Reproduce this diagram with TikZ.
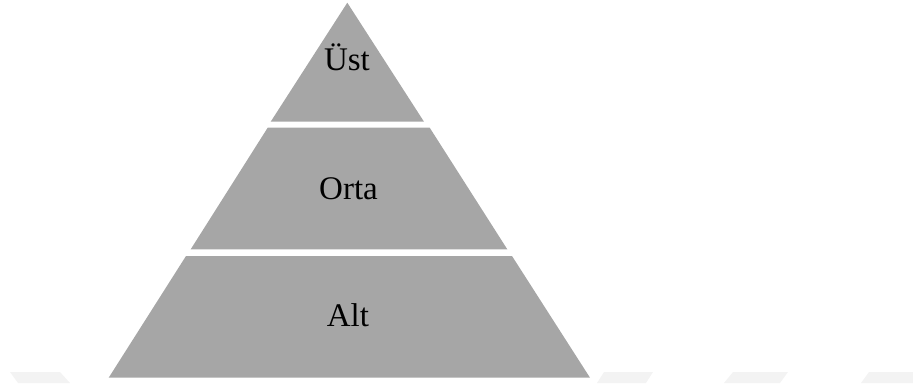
\documentclass[tikz,border=0pt]{standalone}
\usepackage{fontspec}
\setmainfont{Liberation Serif}
\definecolor{tierfill}{RGB}{166,166,166}
\definecolor{markfill}{RGB}{243,243,243}
\begin{document}
\begin{tikzpicture}[x=1pt,y=-1pt,
  tier/.style={fill=tierfill,draw=none},
  edgemark/.style={fill=markfill,draw=none},
  tierlabel/.style={anchor=base,inner sep=0pt,font=\fontsize{33}{38}\selectfont,text=black}]
\useasboundingbox (0,0) rectangle (913,383);
% faint marks along the lower edge
\fill[edgemark] (10,372) -- (60,372) -- (70,383) -- (18,383) -- cycle;
\fill[edgemark] (604,372) -- (653,372) -- (646,383) -- (597,383) -- cycle;
\fill[edgemark] (733,372) -- (788,372) -- (780,383) -- (724,383) -- cycle;
\fill[edgemark] (869,372) -- (913,372) -- (913,383) -- (861,383) -- cycle;
% three tiers of the pyramid
\fill[tier] (347.3,2.7) -- (424,121.7) -- (270.7,121.7) -- cycle;
\fill[tier] (267.7,127.7) -- (429.7,127.7) -- (507.3,249.3) -- (190.7,249.3) -- cycle;
\fill[tier] (186,256) -- (512,256) -- (590,377.7) -- (108.7,377.7) -- cycle;
% labels
\node[tierlabel] (ust) at (347,70.7) {Üst};
\node[tierlabel] (orta) at (348.5,199) {Orta};
\node[tierlabel] (alt) at (348,326) {Alt};
\end{tikzpicture}
\end{document}
